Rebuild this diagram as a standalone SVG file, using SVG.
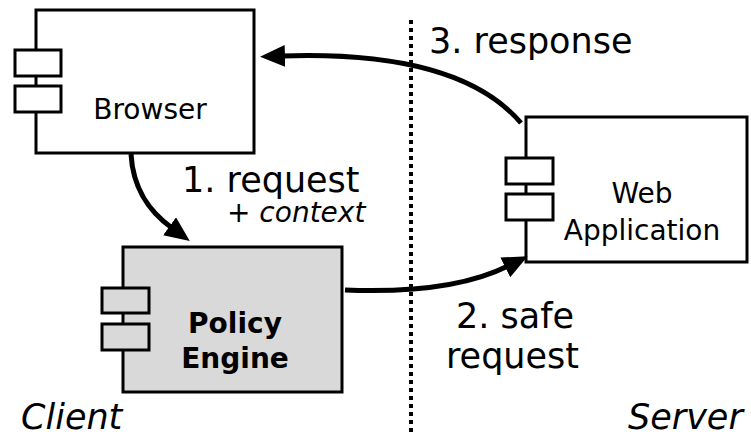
<svg xmlns="http://www.w3.org/2000/svg" width="751" height="436" viewBox="0 0 751 436">
  <style>
    .box { fill: #ffffff; stroke: #000000; stroke-width: 3; }
    .box.engine { fill: #d9d9d9; }
    .port { fill: #ffffff; stroke: #000000; stroke-width: 3; }
    .engine .port { fill: #d9d9d9; }
    .name { font-family: "DejaVu Sans", sans-serif; font-size: 28px; fill: #000; text-anchor: middle; }
    .bold { font-weight: bold; }
    .label { font-family: "DejaVu Sans", sans-serif; font-size: 35px; fill: #000; }
    .italic { font-style: italic; }
    .flow { fill: none; stroke: #000; stroke-width: 5; marker-end: url(#head); }
    .divider { stroke: #000; stroke-width: 4; stroke-dasharray: 4 4; }
  </style>
  <defs>
    <marker id="head" markerUnits="userSpaceOnUse" markerWidth="26" markerHeight="24" refX="3" refY="11" orient="auto">
      <path d="M0,0 L25,11 L0,22 z" fill="#000"/>
    </marker>
  </defs>

  <!-- client / server boundary -->
  <line class="divider" x1="411" y1="20" x2="411" y2="432"/>

  <g id="browser">
    <rect class="box" x="36" y="10" width="218" height="143"/>
    <rect class="port" x="15" y="50" width="46" height="26"/>
    <rect class="port" x="15" y="86" width="46" height="26"/>
    <text class="name" x="150" y="119">Browser</text>
  </g>

  <g id="policy-engine" class="engine">
    <rect class="box engine" x="123" y="247" width="219" height="145"/>
    <rect class="port" x="102" y="288" width="47" height="25"/>
    <rect class="port" x="102" y="324" width="47" height="26"/>
    <text class="name bold" x="235" y="333">Policy</text>
    <text class="name bold" x="235" y="368">Engine</text>
  </g>

  <g id="web-application">
    <rect class="box" x="526" y="117" width="221" height="145"/>
    <rect class="port" x="506" y="158" width="47" height="26"/>
    <rect class="port" x="506" y="194" width="47" height="26"/>
    <text class="name" x="642" y="203">Web</text>
    <text class="name" x="642" y="240">Application</text>
  </g>

  <g id="connectors">
    <path class="flow" d="M131,154 C133,190 150,212 172,228"/>
    <path class="flow" d="M345,290 C420,293 472,284 508,266"/>
    <path class="flow" d="M521,123 C480,75 400,52 282,56"/>
  </g>

  <g id="labels">
    <text class="label" x="182" y="192">1. request</text>
    <text class="label italic" x="227" y="222" style="font-size:28px">+ context</text>
    <text class="label" x="456" y="328">2. safe</text>
    <text class="label" x="446" y="368">request</text>
    <text class="label" x="429" y="53">3. response</text>
    <text class="label italic" x="21" y="429">Client</text>
    <text class="label italic" x="628" y="429">Server</text>
  </g>
</svg>
